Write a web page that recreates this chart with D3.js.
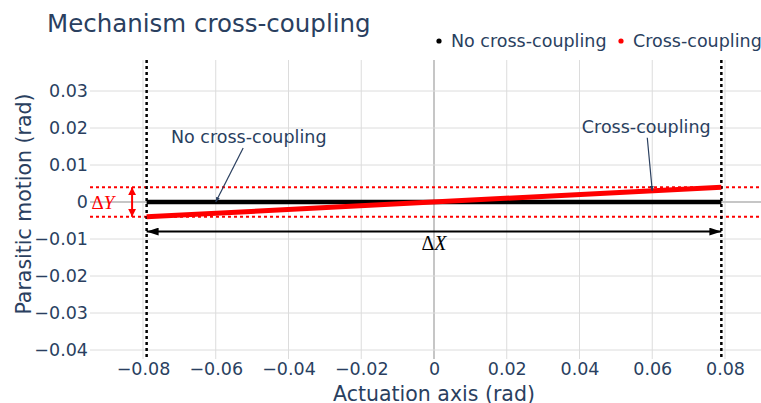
<!DOCTYPE html>
<html><head><meta charset="utf-8">
<script src="https://cdn.jsdelivr.net/npm/d3@7"></script>
<style>
html,body{margin:0;padding:0;background:#fff;}
svg{display:block;}
</style></head>
<body>
<svg id="chart" width="761" height="403"></svg>
<script>
// ---- data ----
const xTicks = [-0.08, -0.06, -0.04, -0.02, 0, 0.02, 0.04, 0.06, 0.08];
const yTicks = [-0.04, -0.03, -0.02, -0.01, 0, 0.01, 0.02, 0.03];
const actuation = [-0.079, 0.079];           // actuation range (rad)
const noCoupling = [0, 0];                   // parasitic motion, no cross-coupling
const crossCoupling = [-0.004, 0.004];       // parasitic motion, cross-coupling
const seriesNames = ["No cross-coupling", "Cross-coupling"];
const seriesColors = ["#000000", "#ff0000"];
const deltaXLevel = -0.008;                  // y level of the ΔX arrow
const deltaYPos = -0.083;                    // x position of the ΔY arrow
const annotations = [
  {text: "No cross-coupling", x: -0.06, y: 0, ax: 33, ay: -65},
  {text: "Cross-coupling", x: 0.06, y: 0.06 * 0.004 / 0.079, ax: -6, ay: -64}
];

// ---- layout ----
const W = 761, H = 403;
const plot = {left: 90, right: 761, top: 60, bottom: 359};
const textColor = "#2a3f5f";
const font = "Verdana, 'DejaVu Sans', sans-serif";
const mathFont = "'Liberation Serif', 'Times New Roman', serif";

const svg = d3.select("#chart");
const x = d3.scaleLinear().domain([-0.09457, 0.0899]).range([plot.left, plot.right]);
const y = d3.scaleLinear().domain([-0.04243, 0.03838]).range([plot.bottom, plot.top]);

const fmt = v => v === 0 ? "0" : d3.format(".2f")(v).replace("-", "\u2212");

// grid
const grid = svg.append("g");
grid.selectAll("line.gx").data(xTicks).join("line")
  .attr("x1", d => x(d)).attr("x2", d => x(d))
  .attr("y1", plot.top).attr("y2", plot.bottom)
  .attr("stroke", d => d === 0 ? "#c6c6c6" : "#dcdcdc")
  .attr("stroke-width", d => d === 0 ? 2 : 1);
grid.selectAll("line.gy").data(yTicks).join("line")
  .attr("x1", plot.left).attr("x2", plot.right)
  .attr("y1", d => y(d)).attr("y2", d => y(d))
  .attr("stroke", d => d === 0 ? "#c6c6c6" : "#dcdcdc")
  .attr("stroke-width", d => d === 0 ? 2 : 1);

// axes via d3 (tick labels only)
const xAxis = d3.axisBottom(x).tickValues(xTicks).tickFormat(fmt).tickSize(0).tickPadding(4);
const gx = svg.append("g").attr("transform", `translate(0,${plot.bottom})`).call(xAxis);
gx.select(".domain").remove();
gx.selectAll("text").attr("font-family", font).attr("font-size", 17.5).attr("fill", textColor);

const yAxis = d3.axisLeft(y).tickValues(yTicks).tickFormat(fmt).tickSize(0).tickPadding(2);
const gy = svg.append("g").attr("transform", `translate(${plot.left},0)`).call(yAxis);
gy.select(".domain").remove();
gy.selectAll("text").attr("font-family", font).attr("font-size", 17.5).attr("fill", textColor);

// axis titles
svg.append("text").attr("x", (x(xTicks[0]) + x(xTicks[xTicks.length-1])) / 2).attr("y", 401)
  .attr("text-anchor", "middle").attr("font-family", font).attr("font-size", 20.5)
  .attr("fill", textColor).text("Actuation axis (rad)");
svg.append("text").attr("transform", "translate(31,204) rotate(-90)")
  .attr("text-anchor", "middle").attr("font-family", font).attr("font-size", 20.5)
  .attr("fill", textColor).text("Parasitic motion (rad)");

// title
svg.append("text").attr("x", 47).attr("y", 32).attr("font-family", font)
  .attr("font-size", 24.5).attr("fill", textColor).text("Mechanism cross-coupling");

// defs: arrowheads
const defs = svg.append("defs");
function marker(id, color, w, h) {
  defs.append("marker").attr("id", id).attr("viewBox", `0 0 ${w} ${h}`)
    .attr("refX", w).attr("refY", h / 2).attr("markerWidth", w).attr("markerHeight", h)
    .attr("markerUnits", "userSpaceOnUse").attr("orient", "auto-start-reverse")
    .append("path").attr("d", `M0,0 L${w},${h/2} L0,${h} Z`).attr("fill", color);
}
marker("arrBlack", "#000", 12, 8);
marker("arrRed", "#ff0000", 8, 8);
marker("arrAnn", textColor, 5, 4);

// red dotted limits (ΔY band)
svg.selectAll("line.lim").data(crossCoupling).join("line")
  .attr("x1", plot.left).attr("x2", plot.right)
  .attr("y1", d => y(d)).attr("y2", d => y(d))
  .attr("stroke", "#ff0000").attr("stroke-width", 2).attr("stroke-dasharray", "3,3");

// black dotted vertical limits (ΔX)
svg.selectAll("line.vlim").data(actuation).join("line")
  .attr("x1", d => x(d)).attr("x2", d => x(d))
  .attr("y1", plot.top).attr("y2", plot.bottom)
  .attr("stroke", "#000").attr("stroke-width", 2.5).attr("stroke-dasharray", "3,3");

// series lines
const line = d3.line().x(d => x(d[0])).y(d => y(d[1]));
svg.append("path").datum(d3.zip(actuation, noCoupling)).attr("d", line)
  .attr("fill", "none").attr("stroke", seriesColors[0]).attr("stroke-width", 4.5);
svg.append("path").datum(d3.zip(actuation, crossCoupling)).attr("d", line)
  .attr("fill", "none").attr("stroke", seriesColors[1]).attr("stroke-width", 5);

// ΔX arrow
svg.append("line").attr("x1", x(actuation[0])).attr("x2", x(actuation[1]))
  .attr("y1", y(deltaXLevel)).attr("y2", y(deltaXLevel))
  .attr("stroke", "#000").attr("stroke-width", 2)
  .attr("marker-start", "url(#arrBlack)").attr("marker-end", "url(#arrBlack)");
const dx = svg.append("text").attr("x", x(0)).attr("y", y(deltaXLevel) + 18)
  .attr("text-anchor", "middle").attr("font-family", mathFont).attr("font-size", 20).attr("fill", "#000");
dx.append("tspan").text("\u0394");
dx.append("tspan").attr("font-style", "italic").text("X");

// ΔY arrow
svg.append("line").attr("x1", x(deltaYPos)).attr("x2", x(deltaYPos))
  .attr("y1", y(crossCoupling[1])).attr("y2", y(crossCoupling[0]))
  .attr("stroke", "#ff0000").attr("stroke-width", 2)
  .attr("marker-start", "url(#arrRed)").attr("marker-end", "url(#arrRed)");
const dy = svg.append("text").attr("x", 103).attr("y", y(0) + 6.5)
  .attr("text-anchor", "middle").attr("font-family", mathFont).attr("font-size", 19).attr("fill", "#ff0000");
dy.append("tspan").text("\u0394");
dy.append("tspan").attr("font-style", "italic").text("Y");

// annotations
annotations.forEach(a => {
  const px = x(a.x), py = y(a.y);
  const cx = px + a.ax, cy = py + a.ay;
  const t = svg.append("text").attr("x", cx).attr("y", cy + 6)
    .attr("text-anchor", "middle").attr("font-family", font).attr("font-size", 17.5)
    .attr("fill", textColor).text(a.text);
  const w = t.node().getComputedTextLength();
  const hw = w / 2 + 3, hh = 11;
  const vx = px - cx, vy = py - cy;
  const s = Math.min(Math.abs(vx) > 0 ? hw / Math.abs(vx) : Infinity, Math.abs(vy) > 0 ? hh / Math.abs(vy) : Infinity);
  svg.append("line").attr("x1", cx + vx * s).attr("y1", cy + vy * s)
    .attr("x2", px).attr("y2", py).attr("stroke", textColor).attr("stroke-width", 1.2)
    .attr("marker-end", "url(#arrAnn)");
});

// legend
const legend = svg.append("g");
const legendItems = [{dot: 439, text: 451}, {dot: 621, text: 633}];
seriesNames.forEach((name, i) => {
  legend.append("circle").attr("cx", legendItems[i].dot).attr("cy", 41).attr("r", 2.6).attr("fill", seriesColors[i]);
  legend.append("text").attr("x", legendItems[i].text).attr("y", 47).attr("font-family", font)
    .attr("font-size", 17.5).attr("fill", textColor).text(name);
});
</script>
</body></html>
